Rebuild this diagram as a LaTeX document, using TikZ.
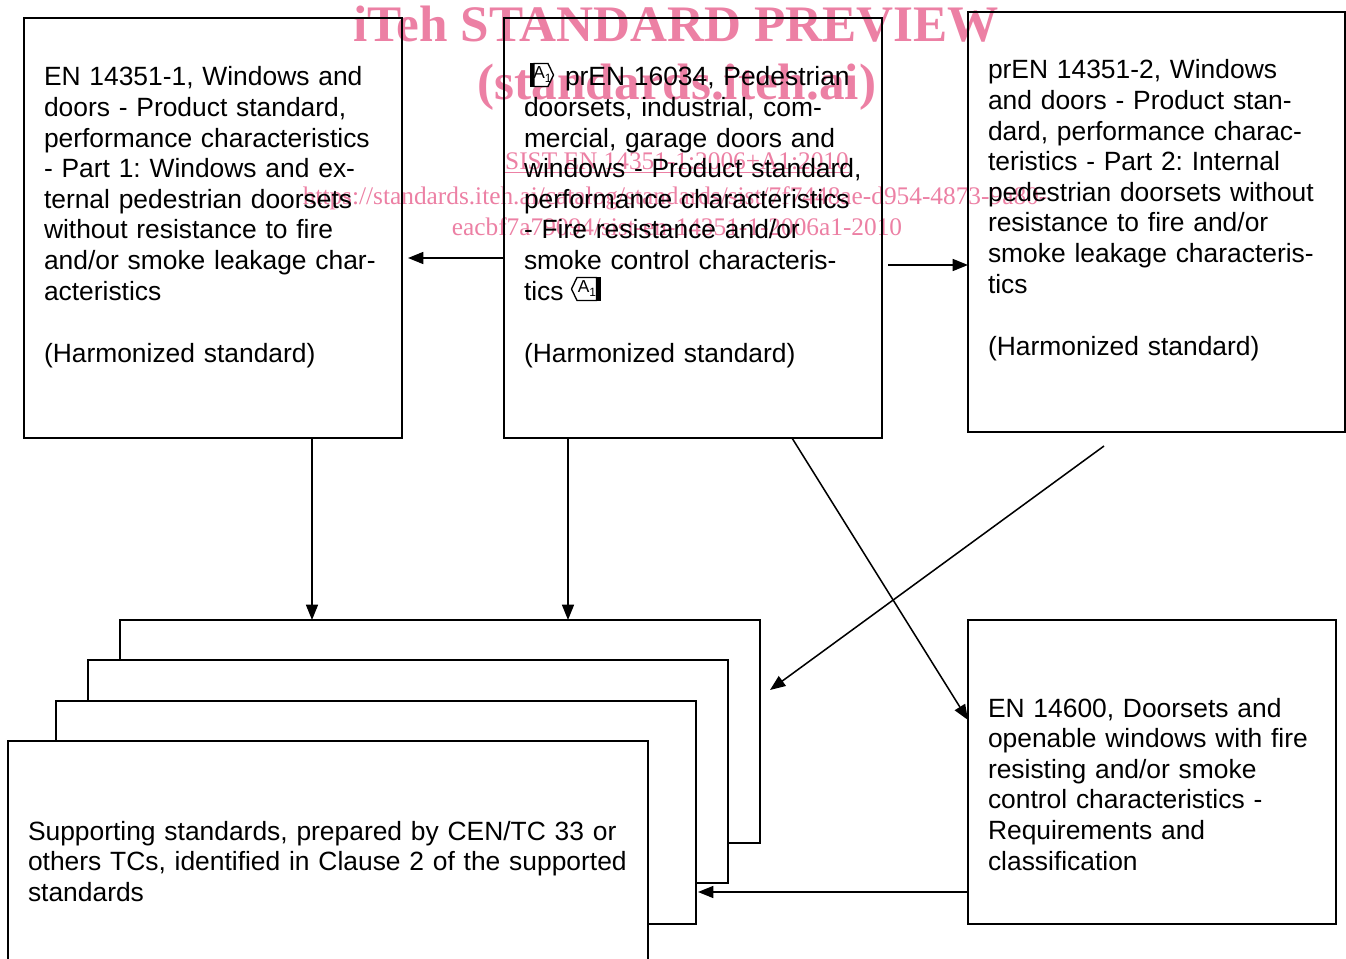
\documentclass[tikz,border=0pt]{standalone}
\usepackage{fontspec}
\setmainfont{Liberation Sans}
\newfontfamily\wmfont{Liberation Serif}
\usetikzlibrary{arrows.meta,calc}
\definecolor{wm}{RGB}{236,128,164}
\begin{document}
\frenchspacing
\begin{tikzpicture}[x=0.75pt,y=-0.75pt,
  boxst/.style={draw, line width=1.3pt, inner sep=0pt, outer sep=0pt},
  stackbox/.style={boxst, fill=white, minimum width=480pt, minimum height=167.25pt},
  txt/.style={anchor=base west, inner sep=0pt, outer sep=0pt, text width=300pt, align=left, font=\frenchspacing\fontsize{19.8}{22.95}\selectfont},
  wmbig/.style={anchor=base, inner sep=0pt, text=wm, font=\wmfont\bfseries\fontsize{38.4}{40}\selectfont},
  wmsmall/.style={anchor=base, inner sep=0pt, text=wm, font=\wmfont\fontsize{19}{21}\selectfont},
  arr/.style={line width=1.15pt, -{Triangle[length=11.5pt,width=9pt]}},
  amdbox/.style={line width=1pt, fill=white},
  amdtxt/.style={inner sep=0pt, font=\fontsize{13}{13}\selectfont}
]
\useasboundingbox (0,0) rectangle (1346,959);
\clip (0,0) rectangle (1346,959);

% watermark
\node[wmbig] (w1) at (676,42) {iTeh STANDARD PREVIEW};
\node[wmbig] (w2) at (677,100) {(standards.iteh.ai)};
\node[wmsmall] (w3) at (677,170) {\underline{SIST EN 14351-1:2006+A1:2010}};
\node[wmsmall] (w4) at (675,205) {https://standards.iteh.ai/catalog/standards/sist/7f7448ae-d954-4873-9a80-};
\node[wmsmall] (w5) at (677,236) {eacbf7a79094/sist-en-14351-1-2006a1-2010};

% main boxes
\node[boxst, minimum width=283.5pt, minimum height=315pt] (A) at (213,228) {};
\node[boxst, minimum width=283.5pt, minimum height=315pt] (B) at (693,228) {};
\node[boxst, minimum width=282.75pt, minimum height=315pt] (C) at (1156.5,222) {};
\node[boxst, minimum width=276pt, minimum height=228pt] (D) at (1152,772) {};

% stacked boxes
\node[stackbox] (S1) at (440,731.5) {};
\node[stackbox] (S2) at (408,771.5) {};
\node[stackbox] (S3) at (376,812.5) {};
\node[boxst, fill=white, minimum width=480pt, minimum height=180pt] (S4) at (328,861) {};

% texts
\node[txt] (tA) at (44,86) {EN 14351-1, Windows and\\ doors - Product standard,\\ performance characteristics\\ - Part 1: Windows and ex-\\ ternal pedestrian doorsets\\ without resistance to fire\\ and/or smoke leakage char-\\ acteristics\\[24pt] (Harmonized standard)};
\node[txt] (tB) at (524,86) {\hspace*{30.75pt}prEN 16034, Pedestrian\\ doorsets, industrial, com-\\ mercial, garage doors and\\ windows - Product standard,\\ performance characteristics\\ - Fire resistance and/or\\ smoke control characteris-\\ tics\\[24pt] (Harmonized standard)};
\node[txt] (tC) at (988,79) {prEN 14351-2, Windows\\ and doors - Product stan-\\ dard, performance charac-\\ teristics - Part 2: Internal\\ pedestrian doorsets without\\ resistance to fire and/or\\ smoke leakage characteris-\\ tics\\[24pt] (Harmonized standard)};
\node[txt] (tD) at (988,717) {EN 14600, Doorsets and\\ openable windows with fire\\ resisting and/or smoke\\ control characteristics -\\ Requirements and\\ classification};
\node[txt, text width=480pt] (tS) at (28,840) {Supporting standards, prepared by CEN/TC 33 or\\ others TCs, identified in Clause 2 of the supported\\ standards};

% amendment markers
\fill (529.5,63) rectangle (534,87);
\draw[amdbox] (534,63.5) -- (548,63.5) -- (553.5,75) -- (548,86.5) -- (534,86.5) -- cycle;
\node[amdtxt] (m1) at (542.5,74.5) {A\raisebox{-2.5pt}{\fontsize{9}{9}\selectfont 1}};
\draw[amdbox] (571.5,289) -- (577,277.5) -- (596.5,277.5) -- (596.5,300.5) -- (577,300.5) -- cycle;
\fill (596.5,277) rectangle (601,301);
\node[amdtxt] (m2) at (587,288.5) {A\raisebox{-2.5pt}{\fontsize{9}{9}\selectfont 1}};

% connectors
\draw[arr] (B.west |- 0,258) -- ($(A.east |- 0,258)+(6,0)$);
\draw[arr] ($(B.east |- 0,265)+(6,0)$) -- (C.west |- 0,265);
\draw[arr] (A.south -| 312,0) -- (S1.north -| 312,0);
\draw[arr] (B.south -| 568,0) -- (S1.north -| 568,0);
\draw[arr] (B.south -| 792,0) -- (D.west |- 0,720);
\draw[arr] ($(C.south -| 1104,0)+(0,14)$) -- ($(S1.east |- 0,690)+(10,0)$);
\draw[arr] (D.west |- 0,892) -- ($(S3.east |- 0,892)+(2,0)$);
\end{tikzpicture}
\end{document}
